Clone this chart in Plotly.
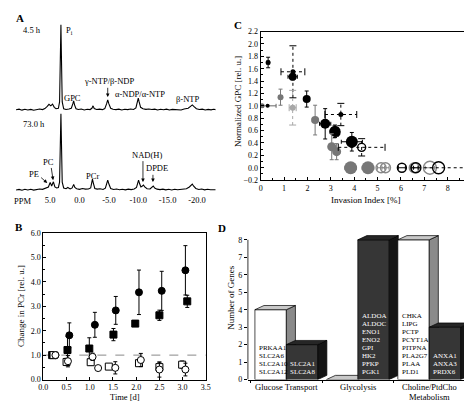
import plotly.graph_objects as go

W, H = 472, 401
FONT = "Liberation Serif"

# ---------------- Panel A: 31P NMR spectra (ppm, intensity) ----------------
top_ppm = [10.8, 10.3, 9.8, 9.3, 8.8, 8.3, 7.8, 7.3, 6.8, 6.3, 5.9, 5.5, 5.2, 4.9, 4.6, 4.3, 4.0, 3.6,
           3.4, 3.25, 3.17, 3.1, 2.95, 2.7, 2.3, 1.8, 1.4, 1.15, 1.0, 0.85, 0.6, 0.2, -0.3, -0.8, -1.3,
           -1.8, -2.1, -2.3, -2.5, -2.9, -3.4, -3.9, -4.3, -4.6, -4.8, -5.0, -5.3, -5.7, -6.2, -6.7,
           -7.2, -7.7, -8.2, -8.7, -9.2, -9.6, -9.85, -10.0, -10.15, -10.4, -10.8, -11.3, -11.8, -12.3,
           -12.8, -13.3, -13.8, -14.3, -14.8, -15.3, -15.8, -16.3, -16.8, -17.3, -17.8, -18.5, -18.9,
           -19.2, -19.5, -19.9, -20.4, -20.9, -21.4, -21.9, -22.4, -22.8, -23.2]
top_int = [0, 0.6, -0.4, 0.5, -0.3, 0.4, -0.5, 0.3, 0.8, 0.2, 1.2, 3.5, 5.5, 4.0, 5.8, 2.5, 1.0, 1.5,
           8, 60, 87, 60, 8, 1.0, 0.3, 0.8, 1.5, 6, 9, 5, 1.0, 0.2, 0.7, -0.2, 0.5,
           0.2, 1.5, 4, 1.2, 0.3, 0.6, 0.1, 1.2, 6, 10, 6, 1.5, 0.5, 0.1, 0.6,
           -0.2, 0.5, 0.1, 0.7, 0.3, 1.8, 8, 12, 8, 2.5, 1.0, 0.4, 0.8, 0.2,
           0.6, -0.2, 0.5, 0, 0.6, -0.3, 0.4, 0.1, 0.5, -0.2, 0.8, 1.5, 3.5,
           5, 3.2, 1.0, 0.2, 0.6, -0.3, 0.4, -0.1, 0.5, 0.1]
bot_ppm = [10.8, 10.3, 9.8, 9.3, 8.8, 8.3, 7.8, 7.3, 6.8, 6.3, 5.9, 5.6, 5.3, 5.0, 4.75, 4.45, 4.2, 3.9,
           3.6, 3.4, 3.25, 3.17, 3.1, 2.95, 2.7, 2.3, 2.0, 1.6, 1.25, 1.0, 0.8, 0.5, 0.0, -0.5, -1.0,
           -1.5, -1.9, -2.05, -2.2, -2.35, -2.6, -3.0, -3.5, -4.0, -4.4, -4.6, -4.8, -5.0, -5.3, -5.8,
           -6.3, -6.8, -7.3, -7.8, -8.3, -8.8, -9.3, -9.7, -9.9, -10.05, -10.25, -10.45, -10.7, -10.9,
           -11.1, -11.5, -12.0, -12.3, -12.55, -12.8, -13.2, -13.7, -14.2, -14.7, -15.2, -15.7, -16.2,
           -16.7, -17.2, -17.7, -18.2, -18.7, -19.0, -19.2, -19.4, -19.8, -20.3, -20.8, -21.3, -21.8,
           -22.3, -22.8, -23.2]
bot_int = [0, 0.5, -0.3, 0.6, 0, 0.7, -0.2, 0.5, 1.0, 0.6, 1.5, 2.5, 3.0, 7.7, 4.0, 8.3, 3.0, 2.0,
           2.5, 8, 55, 78, 55, 8, 2.0, 1.2, 2.5, 1.0, 2.0, 5.7, 2.5, 1.2, 0.6, 1.5, 0.8,
           1.0, 2.0, 7, 11, 7, 1.5, 0.8, 1.2, 0.5, 1.8, 6, 10, 6, 1.5, 0.5,
           0.9, 0.2, 0.7, 0.1, 0.8, 0.3, 0.9, 2.5, 7, 10, 6, 3, 4, 5,
           3, 1.2, 1.0, 2.5, 4, 2, 0.8, 0.3, 0.8, 0.1, 0.6, 0, 0.7,
           0.2, 0.6, 0.3, 1.2, 3.0, 5, 6, 4, 1.5, 0.4, 0.9, 0.1, 0.7,
           0.2, 0.6, 0.2]
spec_offset = 82
ppm_ticks = [5, 0, -5, -10, -15, -20]
ppm_labels = ["5.0", "0.0", "-5.0", "-10.0", "-15.0", "-20.0"]

# ---------------- Panel B: change in PCr ----------------
b_fc_x = [0.26, 0.56, 1.11, 1.56, 2.06, 2.55, 3.06]
b_fc_y = [1.0, 1.81, 2.24, 2.83, 3.57, 3.63, 4.47]
b_fc_e = [0.0, 0.51, 0.51, 0.57, 0.91, 0.80, 1.01]
b_fs_x = [0.19, 0.52, 0.99, 1.51, 1.98, 2.50, 3.10]
b_fs_y = [1.0, 1.21, 1.27, 1.84, 2.29, 2.63, 3.20]
b_fs_e = [0.0, 0.55, 0.44, 0.25, 0.10, 0.21, 0.25]
b_os_x = [0.22, 0.50, 1.02, 1.41, 2.06, 2.50, 2.99]
b_os_y = [1.0, 0.72, 0.71, 0.53, 0.67, 0.51, 0.61]
b_os_e = [0.0, 0.15, 0.13, 0.0, 0.0, 0.20, 0.15]
b_oc_x = [0.26, 0.53, 1.06, 1.18, 1.55, 2.10, 2.50, 3.06]
b_oc_y = [1.0, 0.75, 0.93, 0.47, 0.48, 0.80, 0.41, 0.41]
b_oc_e = [0.0, 0.23, 0.15, 0.0, 0.25, 0.27, 0.31, 0.26]
b_ref = 1.0

# ---------------- Panel C: GPC vs invasion index ----------------
c_x = [0.32, 1.38, 1.37, 0.85, 1.37, 0.06, 0.30, 1.97, 2.33, 3.43, 2.76, 3.15, 3.18, 3.26, 3.04, 3.25,
       3.90, 4.32, 3.85, 4.59, 5.15, 5.34, 6.04, 6.57, 6.64, 7.24, 7.61]
c_y = [1.70, 1.55, 1.47, 1.14, 0.97, 1.00, 1.00, 1.11, 0.77, 0.86, 0.71, 0.58, 0.59, 0.56, 0.34, 0.26,
       0.42, 0.33, 0.0, 0.0, 0.0, 0.0, 0.0, 0.0, 0.0, 0.0, 0.0]
c_ex = [0.06, 0.51, 0.20, 0.08, 0.15, 0.60, 0.0, 0.10, 0.12, 0.68, 0.24, 0.20, 0.20, 0.12, 0.10, 0.12,
        0.45, 1.00, 0.25, 0.25, 0.15, 0.15, 0.15, 0.15, 0.10, 0.20, 1.15]
c_ey = [0.085, 0.42, 0.05, 0.13, 0.28, 0.02, 0.0, 0.13, 0.24, 0.18, 0.245, 0.10, 0.10, 0.05, 0.21, 0.13,
        0.15, 0.14, 0.0, 0.0, 0.0, 0.0, 0.0, 0.0, 0.0, 0.0, 0.0]
c_size = [5, 5, 8, 6, 6, 5, 4, 8, 8, 5, 10, 9, 11, 7, 9, 9, 12, 8, 13, 13, 10, 10, 9, 10, 10, 13, 12]
c_color = ["#000000", "#000000", "#000000", "#777777", "#a8a8a8", "#666666", "#000000", "#000000",
           "#777777", "#000000", "#000000", "#777777", "#000000", "#000000", "#777777", "#777777",
           "#000000", "#000000", "#777777", "#777777", "#888888", "#888888", "#000000", "#888888",
           "#000000", "#888888", "#000000"]
c_open = [False] * 17 + [True, False, False, True, True, True, True, True, True, True]
c_dotted = [False, True, False, False, True, False, False, False, False, True, False, False, False, False,
            False, False, False, True, False, False, False, False, False, False, False, False, True]

# ---------------- Panel D: number of genes ----------------
d_categories = ["Glucose Transport", "Glycolysis", "Choline/PtdCho<br>Metabolism"]
d_up = [4, 0, 8]
d_down = [2, 8, 3]
d_up_genes = [["PRKAA1", "SLC2A6", "SLC2A10", "SLC2A12"], [],
              ["CHKA", "LIPG", "PCTP", "PCYT1A", "PITPNA", "PLA2G7", "PLAA", "PLD1"]]
d_down_genes = [["SLC2A1", "SLC2A8"],
                ["ALDOA", "ALDOC", "ENO1", "ENO2", "GPI", "HK2", "PFKP", "PGK1"],
                ["ANXA1", "ANXA3", "PRDX6"]]
d_yticks = [0, 1, 2, 3, 4, 5, 6, 7, 8]

fig = go.Figure()

# ---- A ----
fig.add_trace(go.Scatter(x=top_ppm, y=[v + spec_offset for v in top_int], mode="lines",
                         line=dict(color="black", width=1.1), xaxis="x", yaxis="y", hoverinfo="skip"))
fig.add_trace(go.Scatter(x=bot_ppm, y=bot_int, mode="lines",
                         line=dict(color="black", width=1.1), xaxis="x", yaxis="y", hoverinfo="skip"))

# ---- B ----
def b_series(xs, ys, es, symbol, fill):
    fig.add_trace(go.Scatter(
        x=xs, y=ys, mode="markers", xaxis="x2", yaxis="y2", hoverinfo="skip",
        marker=dict(symbol=symbol, size=7, color=fill, line=dict(color="black", width=1)),
        error_y=dict(type="data", array=es, color="black", thickness=1, width=2)))

b_series(b_fs_x, b_fs_y, b_fs_e, "square", "black")
b_series(b_fc_x, b_fc_y, b_fc_e, "circle", "black")
b_series(b_os_x, b_os_y, b_os_e, "square", "white")
b_series(b_oc_x, b_oc_y, b_oc_e, "circle", "white")

# ---- C ----
for i in range(len(c_x)):
    col = c_color[i]
    x, y, ex, ey = c_x[i], c_y[i], c_ex[i], c_ey[i]
    if c_dotted[i]:
        lx, ly, cx, cy, cs = [], [], [], [], []
        if ex > 0:
            lx += [x - ex, x + ex, None]; ly += [y, y, None]
            cx += [x - ex, x + ex]; cy += [y, y]; cs += ["line-ns", "line-ns"]
        if ey > 0:
            lx += [x, x, None]; ly += [y - ey, y + ey, None]
            cx += [x, x]; cy += [y - ey, y + ey]; cs += ["line-ew", "line-ew"]
        fig.add_trace(go.Scatter(x=lx, y=ly, mode="lines", xaxis="x3", yaxis="y3", hoverinfo="skip",
                                 line=dict(color=col, width=1, dash="dot")))
        fig.add_trace(go.Scatter(x=cx, y=cy, mode="markers", xaxis="x3", yaxis="y3", hoverinfo="skip",
                                 marker=dict(symbol=cs, size=5, line=dict(color=col, width=1))))
        err_x = dict(visible=False); err_y = dict(visible=False)
    else:
        err_x = dict(type="data", array=[ex], color=col, thickness=1, width=2, visible=ex > 0)
        err_y = dict(type="data", array=[ey], color=col, thickness=1, width=2, visible=ey > 0)
    fill = "rgba(0,0,0,0)" if c_open[i] else col
    fig.add_trace(go.Scatter(
        x=[x], y=[y], mode="markers", xaxis="x3", yaxis="y3", hoverinfo="skip",
        marker=dict(symbol="circle", size=c_size[i], color=fill,
                    line=dict(color=col, width=1.4 if c_open[i] else 0)),
        error_x=err_x, error_y=err_y))

# ---- D (3D bars drawn as faces) ----
bw, ddx, ddy = 0.44, 0.127, 0.24

def face(xs, ys, color):
    fig.add_trace(go.Scatter(x=xs, y=ys, mode="lines", fill="toself", fillcolor=color,
                             line=dict(color="black", width=0.7), xaxis="x4", yaxis="y4",
                             hoverinfo="skip"))

def box(x0, v, front, top, side):
    x1 = x0 + bw
    if v > 0:
        face([x0, x1, x1, x0, x0], [0, 0, v, v, 0], front)
        face([x1, x1 + ddx, x1 + ddx, x1, x1], [0, ddy, v + ddy, v, 0], side)
    face([x0, x1, x1 + ddx, x0 + ddx, x0], [v, v, v + ddy, v + ddy, v], top)

annotations = []
for i in range(len(d_categories)):
    box(i - bw, d_up[i], "white", "#c8c8c8", "#8a8a8a")
    box(i, d_down[i], "#363636", "#262626", "#151515")
    for genes, x0, colr in ((d_up_genes[i], i - bw, "#000000"), (d_down_genes[i], i, "#ffffff")):
        n = len(genes)
        for k, g in enumerate(genes):
            annotations.append(dict(x=x0 + 0.03, y=0.43 + 0.462 * (n - 1 - k), xref="x4", yref="y4",
                                    text=g, showarrow=False, xanchor="left", yanchor="middle",
                                    font=dict(size=7, color=colr, family=FONT)))
    for k, line in enumerate(d_categories[i].split("<br>")):
        annotations.append(dict(x=i, y=1 - (383.5 + 10.5 * k) / H, xref="x4", yref="paper", text=line,
                                showarrow=False, xanchor="center", yanchor="middle",
                                font=dict(size=8.5, color="#000000", family=FONT)))

# ---- A annotations ----
def a_txt(text, x, y, anchor="center", size=8.5):
    annotations.append(dict(x=x, y=y, xref="x", yref="y", text=text, showarrow=False,
                            xanchor=anchor, yanchor="middle",
                            font=dict(size=size, family=FONT, color="#000000")))

def a_arrow(x, y, ax, ay):
    annotations.append(dict(x=x, y=y, ax=ax, ay=ay, xref="x", yref="y", axref="x", ayref="y",
                            text="", showarrow=True, arrowhead=2, arrowsize=0.9, arrowwidth=0.8,
                            arrowcolor="black"))

a_txt("4.5 h", 10.0, 164, "left")
a_txt("P<sub>i</sub>", 2.7, 163, "left")
a_txt("GPC", 1.17, 94)
a_txt("γ-NTP/β-NDP", -5.0, 111)
a_arrow(-4.8, 95, -4.8, 106)
a_txt("α-NDP/α-NTP", -10.3, 98)
a_txt("β-NTP", -18.3, 93)
a_txt("73.0 h", 10.0, 67, "left")
a_txt("PE", 7.8, 16)
a_arrow(5.5, 7, 6.8, 14)
a_txt("PC", 5.2, 29)
a_arrow(4.5, 10, 4.85, 24)
a_txt("PCr", -2.2, 14)
a_txt("NAD(H)", -11.5, 36)
a_arrow(-10.8, 8, -10.8, 31)
a_txt("DPDE", -13.2, 22)
a_arrow(-12.5, 8, -12.5, 17)

def paper_txt(text, px, py, size=9, angle=0, bold=False, anchor="center"):
    annotations.append(dict(x=px / W, y=1 - py / H, xref="paper", yref="paper",
                            text=f"<b>{text}</b>" if bold else text, showarrow=False,
                            textangle=angle, xanchor=anchor, yanchor="middle",
                            font=dict(size=size, family=FONT, color="#000000")))

paper_txt("PPM", 10, 193, 8.5)
paper_txt("A", 7, 6, 11, bold=True)
paper_txt("B", 6, 220, 11, bold=True)
paper_txt("C", 230, 13, 11, bold=True)
paper_txt("D", 214, 221, 11, bold=True)
paper_txt("Change in PCr [rel. u.]", 8, 301, 9, angle=-90)
paper_txt("Time [d]", 114, 394, 8.5)
paper_txt("Normalized GPC [rel. u.]", 230, 92, 9, angle=-90)
paper_txt("Invasion Index [%]", 360, 192, 9)
paper_txt("Number of Genes", 223, 292, 9, angle=-90)

shapes = [
    dict(type="line", xref="x2 domain", yref="y2", x0=0, x1=1, y0=b_ref, y1=b_ref,
         line=dict(color="#888888", width=1, dash="dash"), layer="below"),
    dict(type="line", xref="x4 domain", yref="y4", x0=0, x1=0, y0=0, y1=max(d_yticks),
         line=dict(color="black", width=0.8)),
]

frame = dict(showline=True, mirror=True, linecolor="black", linewidth=1, showgrid=False,
             zeroline=False, ticks="inside", ticklen=3, tickcolor="black",
             tickfont=dict(size=8, family=FONT, color="#000000"))

fig.update_layout(
    width=W, height=H, autosize=False, margin=dict(l=0, r=0, t=0, b=0),
    paper_bgcolor="white", plot_bgcolor="white", showlegend=False,
    font=dict(family=FONT, size=8, color="#000000"),
    xaxis=dict(domain=[3 / W, 207 / W], range=[10.83, -23.17], tickmode="array", tickvals=ppm_ticks,
               ticktext=ppm_labels, showline=False, showgrid=False, zeroline=False, ticks="",
               tickfont=dict(size=8.5, family=FONT, color="#000000"), anchor="y"),
    yaxis=dict(domain=[1 - 186 / H, 1], range=[-4, 182], visible=False, anchor="x"),
    xaxis2=dict(frame, domain=[31 / W, 197 / W], range=[0, 3.5], dtick=0.5, tick0=0, tickformat=".1f",
                anchor="y2"),
    yaxis2=dict(frame, domain=[1 - 376 / H, 1 - 226 / H], range=[0, 6], dtick=1, tick0=0,
                tickformat=".1f", anchor="x2",
                minor=dict(dtick=0.5, ticks="inside", ticklen=2, tickcolor="black")),
    xaxis3=dict(frame, domain=[253 / W, 468 / W], range=[0, 9], dtick=1, tick0=0, anchor="y3",
                ticklabeloverflow="allow",
                minor=dict(dtick=0.5, ticks="inside", ticklen=2, tickcolor="black")),
    yaxis3=dict(frame, domain=[1 - 172 / H, 1 - 20 / H], range=[-0.2, 2.2], dtick=0.2, tick0=0,
                tickformat=".1f", anchor="x3",
                minor=dict(dtick=0.1, ticks="inside", ticklen=2, tickcolor="black")),
    xaxis4=dict(domain=[240 / W, 466 / W], range=[-0.538, 2.558], tickmode="array", tickvals=[0, 1, 2],
                showticklabels=False, ticks="", showline=True, linecolor="black", linewidth=0.8,
                showgrid=False, zeroline=False, anchor="y4",
                minor=dict(tickmode="array", tickvals=[-0.5, 0.5, 1.5, 2.5], ticks="outside",
                           ticklen=3, tickcolor="black")),
    yaxis4=dict(domain=[1 - 376 / H, 1 - 220 / H], range=[0, 8.73], tickmode="array", tickvals=d_yticks,
                ticks="outside", ticklen=3, tickcolor="black", showline=False, showgrid=False,
                zeroline=False, tickfont=dict(size=8, family=FONT, color="#000000"), anchor="x4"),
    annotations=annotations, shapes=shapes,
)

fig.write_html("out.html")
